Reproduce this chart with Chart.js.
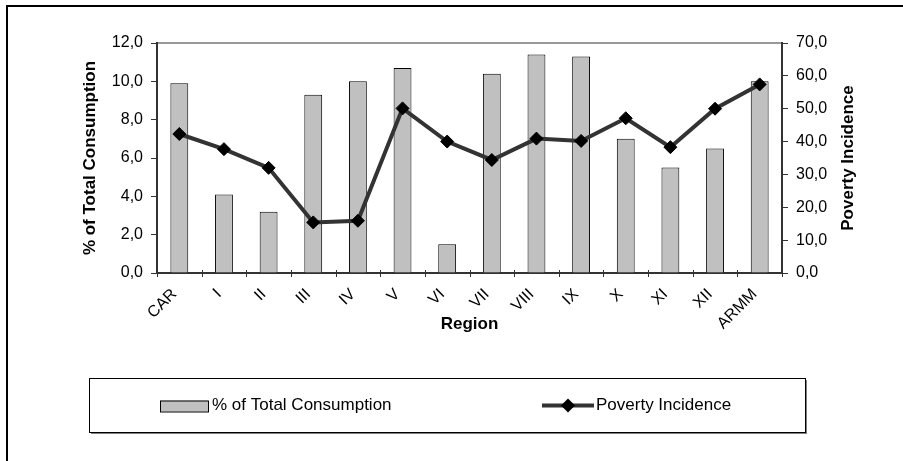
<!DOCTYPE html>
<html>
<head>
<meta charset="utf-8">
<script src="https://cdn.jsdelivr.net/npm/chart.js@4/dist/chart.umd.min.js"></script>
<style>
  html, body { margin: 0; padding: 0; background: #fff; }
  #wrap { width: 903px; height: 461px; }
</style>
</head>
<body>
<div id="wrap"><canvas id="c" width="903" height="461"></canvas></div>
<script>
// Regions of the Philippines
const regions = ['CAR', 'I', 'II', 'III', 'IV', 'V', 'VI', 'VII', 'VIII', 'IX', 'X', 'XI', 'XII', 'ARMM'];
// Share of total consumption (%), left axis
const consumptionShare = [9.9, 4.1, 3.2, 9.3, 10.0, 10.7, 1.5, 10.4, 11.4, 11.3, 7.0, 5.5, 6.5, 10.0];
// Poverty incidence (%), right axis
const povertyIncidence = [42.3, 37.7, 32.0, 15.4, 15.9, 50.1, 40.0, 34.4, 40.9, 40.2, 47.1, 38.3, 50.0, 57.4];

const seriesNames = ['% of Total Consumption', 'Poverty Incidence'];
const axisTitles = { left: '% of Total Consumption', right: 'Poverty Incidence', x: 'Region' };

const FONT = '"Liberation Sans", Arial, sans-serif';
const fmt = v => Number(v).toFixed(1).replace('.', ',');

// Frame, plot border, axis titles and the boxed legend
const decorations = {
  id: 'decorations',
  beforeDraw(chart) {
    const ctx = chart.ctx;
    const a = chart.chartArea;
    ctx.save();
    ctx.fillStyle = '#fff';
    ctx.fillRect(0, 0, chart.width, chart.height);
    // outer frame
    ctx.strokeStyle = '#000';
    ctx.lineWidth = 2;
    ctx.strokeRect(7, 6, chart.width + 20, chart.height + 20);
    // top edge of the plot area
    ctx.strokeStyle = '#999';
    ctx.lineWidth = 2;
    ctx.beginPath();
    ctx.moveTo(a.left, a.top);
    ctx.lineTo(a.right, a.top);
    ctx.stroke();
    ctx.restore();
  },
  afterDraw(chart) {
    const ctx = chart.ctx;
    const a = chart.chartArea;
    const midY = (a.top + a.bottom) / 2;
    ctx.save();
    // category tick marks crossing the axis line
    const xs = chart.scales.x;
    ctx.strokeStyle = '#333';
    ctx.lineWidth = 1;
    ctx.beginPath();
    for (let i = 0; i <= regions.length; i++) {
      const px = Math.round(xs.getPixelForValue(i - 0.5)) + 0.5;
      ctx.moveTo(px, a.bottom - 3);
      ctx.lineTo(px, a.bottom + 4);
    }
    ctx.stroke();

    ctx.fillStyle = '#000';
    ctx.font = 'bold 17px ' + FONT;
    ctx.textAlign = 'center';
    ctx.textBaseline = 'middle';
    // left axis title
    ctx.save();
    ctx.translate(90, midY);
    ctx.rotate(-Math.PI / 2);
    ctx.fillText(axisTitles.left, 0, 0);
    ctx.restore();
    // right axis title
    ctx.save();
    ctx.translate(848, midY);
    ctx.rotate(-Math.PI / 2);
    ctx.fillText(axisTitles.right, 0, 0);
    ctx.restore();
    // category axis title
    ctx.fillText(axisTitles.x, (a.left + a.right) / 2, 324);

    // legend box with shadow
    const lx = 89, ly = 378, lw = 716, lh = 54;
    ctx.fillStyle = '#808080';
    ctx.fillRect(lx + 2, ly + 2, lw, lh);
    ctx.fillStyle = '#fff';
    ctx.fillRect(lx, ly, lw, lh);
    ctx.strokeStyle = '#000';
    ctx.lineWidth = 1;
    ctx.strokeRect(lx + 0.5, ly + 0.5, lw, lh);

    const cy = 405.5;
    // bar entry
    ctx.fillStyle = '#c0c0c0';
    ctx.fillRect(160, cy - 5, 48, 11);
    ctx.strokeStyle = '#000';
    ctx.strokeRect(160.5, cy - 5 + 0.5, 48, 11);
    ctx.fillStyle = '#000';
    ctx.font = '17px ' + FONT;
    ctx.textAlign = 'left';
    ctx.fillText(seriesNames[0], 212, cy);
    // line entry
    ctx.strokeStyle = '#333';
    ctx.lineWidth = 4;
    ctx.beginPath();
    ctx.moveTo(542, cy);
    ctx.lineTo(594, cy);
    ctx.stroke();
    ctx.fillStyle = '#000';
    ctx.beginPath();
    ctx.moveTo(568, cy - 7);
    ctx.lineTo(575, cy);
    ctx.lineTo(568, cy + 7);
    ctx.lineTo(561, cy);
    ctx.closePath();
    ctx.fill();
    ctx.fillText(seriesNames[1], 596, cy);
    ctx.restore();
  }
};

new Chart(document.getElementById('c'), {
  data: {
    labels: regions,
    datasets: [
      {
        type: 'line',
        label: seriesNames[1],
        data: povertyIncidence,
        yAxisID: 'y1',
        borderColor: '#333333',
        borderWidth: 4,
        pointStyle: 'rectRot',
        pointRadius: 6.5,
        pointBackgroundColor: '#000',
        pointBorderColor: '#000',
        pointBorderWidth: 1,
        tension: 0,
        order: 0
      },
      {
        type: 'bar',
        label: seriesNames[0],
        data: consumptionShare,
        yAxisID: 'y',
        backgroundColor: '#c0c0c0',
        borderColor: '#000',
        borderWidth: 1,
        barPercentage: 0.4,
        categoryPercentage: 1,
        order: 1
      }
    ]
  },
  options: {
    responsive: false,
    devicePixelRatio: 1,
    animation: false,
    layout: { padding: { top: 43, left: 0, right: 0, bottom: 0 } },
    plugins: { legend: { display: false }, tooltip: { enabled: false } },
    scales: {
      x: {
        type: 'category',
        offset: true,
        afterFit(s) { s.height = 188; },
        border: { display: true, color: '#333', width: 2 },
        grid: { offset: true, display: false, drawOnChartArea: false, drawTicks: false, tickLength: 6 },
        ticks: {
          autoSkip: false,
          minRotation: 45,
          maxRotation: 45,
          padding: 12,
          labelOffset: -5,
          color: '#000',
          font: { family: FONT, size: 16 }
        }
      },
      y: {
        position: 'left',
        min: 0,
        max: 12,
        afterFit(s) { s.width = 157; },
        border: { display: true, color: '#333', width: 2 },
        grid: { drawOnChartArea: false, drawTicks: true, tickLength: 6, color: '#333', lineWidth: 1 },
        ticks: {
          stepSize: 2,
          padding: 8,
          color: '#000',
          font: { family: FONT, size: 16 },
          callback: v => fmt(v)
        }
      },
      y1: {
        position: 'right',
        min: 0,
        max: 70,
        afterFit(s) { s.width = 121; },
        border: { display: true, color: '#333', width: 2 },
        grid: { drawOnChartArea: false, drawTicks: true, tickLength: 6, color: '#333', lineWidth: 1 },
        ticks: {
          stepSize: 10,
          padding: 8,
          color: '#000',
          font: { family: FONT, size: 16 },
          callback: v => fmt(v)
        }
      }
    }
  },
  plugins: [decorations]
});
</script>
</body>
</html>
